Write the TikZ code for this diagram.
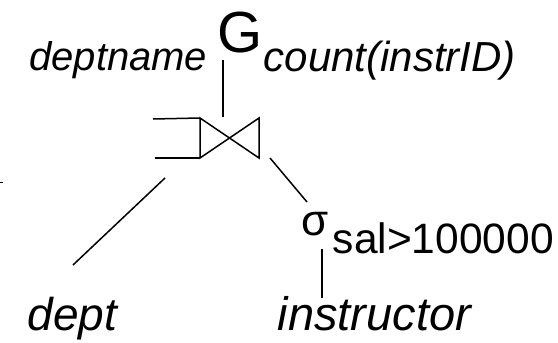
\documentclass[tikz,border=0pt]{standalone}
\usepackage{fontspec}
\setmainfont{Liberation Sans}
\usetikzlibrary{calc}

\begin{document}
\begin{tikzpicture}[x=1pt,y=-1pt,line width=1.5pt,
  lbl/.style={inner sep=0pt,font=\fontsize{#1}{#1}\selectfont},
  ilbl/.style={inner sep=0pt,font=\fontsize{#1}{#1}\selectfont\itshape}]
\useasboundingbox (0,0) rectangle (558,343);
% the labels
\node[lbl=58,anchor=base west] (G) at (217,52) {G};
\node[ilbl=40,anchor=base east] (grp) at (208,70) {deptname};
\node[ilbl=42,anchor=base west] (agg) at (263,71) {count(instrID)};
\node[lbl=44,anchor=base west] (sigma) at (301,235) {σ};
\node[lbl=42.5,anchor=base west] (cond) at (332,253) {sal>100000};
\node[ilbl=46,anchor=base west] (dept) at (27,330) {dept};
\node[ilbl=47,anchor=base west] (instr) at (277,330) {instructor};
% the join
\coordinate (jtl) at (200,118);
\coordinate (jbl) at (200,158);
\coordinate (jtr) at (259,118);
\coordinate (jbr) at (259,158);
\draw (jtl) -- (jbr) -- (jtr) -- (jbl) -- cycle;
\draw (153,119) -- (jtl);
\draw (155,158) -- (jbl);
% the edges
\coordinate (gfoot) at (223,60);
\coordinate (jtop) at (223,117);
\coordinate (jleft) at (165,178);
\coordinate (jright) at (270,158);
\coordinate (dtop) at (73,265);
\coordinate (stop) at (307,202);
\coordinate (sfoot) at (322,249);
\coordinate (itop) at (322,298);
\draw (gfoot) -- (jtop);
\draw (jleft) -- (dtop);
\draw (jright) -- (stop);
\draw (sfoot) -- (itop);
\draw (0,182.5) -- (3,182.5);
\end{tikzpicture}
\end{document}
